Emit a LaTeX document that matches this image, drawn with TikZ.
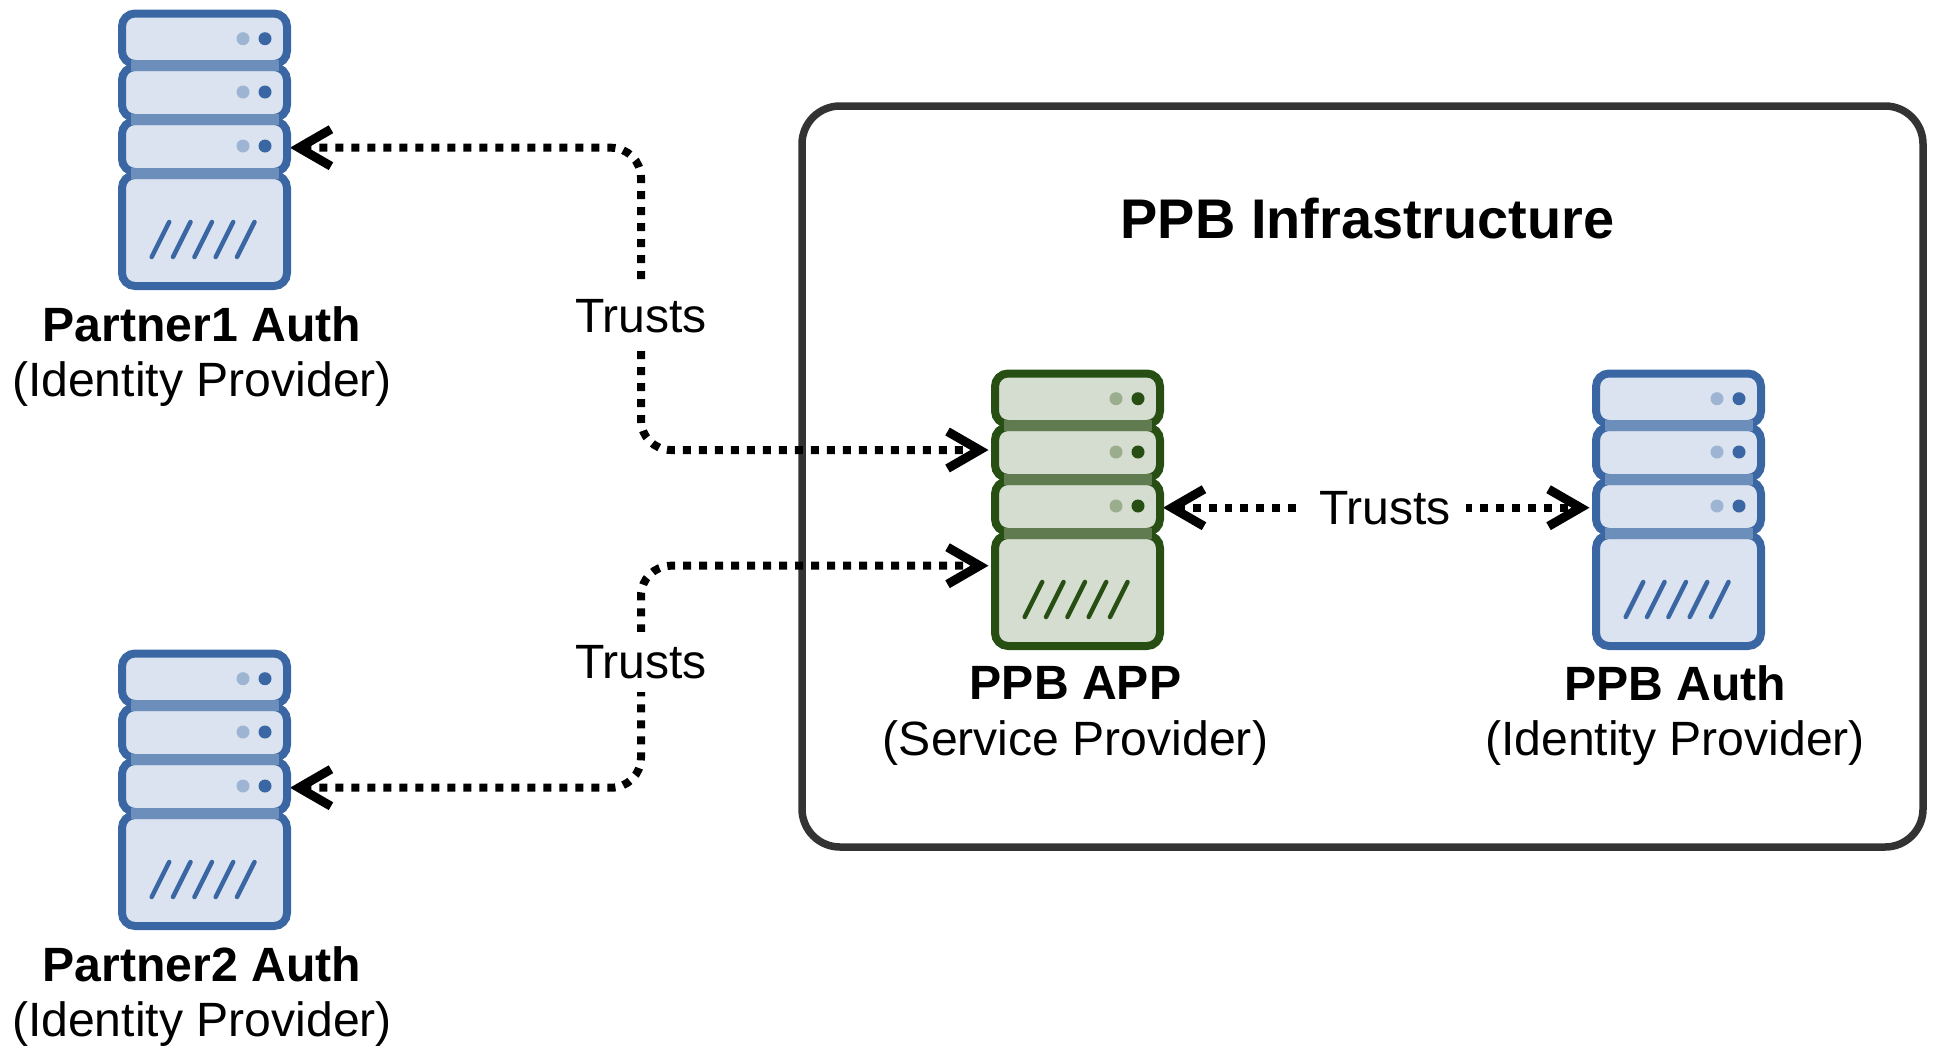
\documentclass[tikz,border=0pt]{standalone}
\usepackage{fontspec}
\setmainfont{Liberation Sans}
\usepackage{xcolor}
\usetikzlibrary{arrows.meta,positioning,backgrounds}
\definecolor{blueline}{HTML}{3A67A3}
\definecolor{bluefill}{HTML}{DAE3EF}
\definecolor{blueband}{HTML}{6C8EBA}
\definecolor{blueled}{HTML}{9DB4D3}
\definecolor{greenline}{HTML}{274E13}
\definecolor{greenfill}{HTML}{D5DCD0}
\definecolor{greenband}{HTML}{5F7B4F}
\definecolor{greenled}{HTML}{9AAD8D}
\definecolor{boxline}{HTML}{333333}

\begin{document}
\begin{tikzpicture}[
    x=0.02cm, y=-0.02cm,
    unit/.style={draw, line width=0.16cm, rounded corners=0.26cm},
    caption/.style={align=center, font=\fontsize{27.4}{31.7}\selectfont, inner sep=0pt},
    title/.style={font=\fontsize{31.8}{38}\selectfont\bfseries, inner sep=0pt},
    trustlabel/.style={fill=white, font=\fontsize{27.4}{32}\selectfont, inner xsep=0.3cm, inner ysep=0.27cm},
    infra/.style={draw=boxline, line width=0.15cm, rounded corners=0.76cm},
    trust/.style={line width=0.16cm, dash pattern=on 0.16cm off 0.16cm, rounded corners=0.6cm,
        {Straight Barb[length=0.64cm,width=0.74cm,line width=0.18cm]}-{Straight Barb[length=0.64cm,width=0.74cm,line width=0.18cm]}},
    pics/server/.style={code={
        % Body outline of the rack
        \node[minimum width=3.46cm, minimum height=5.6cm, inner sep=0pt] (-body) at (86.5,140) {};
        \foreach \ytop/\ybot in {3.5/54, 57/108, 111/162, 165/276}
            \draw[unit, draw=#1line, fill=#1fill] (4,\ytop) rectangle (169,\ybot);
        % Bands and lights
        \foreach \yband/\yled in {50/28.7, 104/82, 158/136} {
            \fill[#1band] (13,\yband) rectangle (161,\yband+11);
            \fill[#1led] (125,\yled) circle (0.13cm);
            \fill[#1line] (147,\yled) circle (0.13cm);
        }
        % Slots
        \foreach \xslot in {33.7, 55, 76.4, 97.7, 119}
            \draw[#1line, line width=0.09cm, line cap=round] (\xslot,247) -- (\xslot+17.5,212);
        % Connection points
        \coordinate (-right) at (172,137.7);
        \coordinate (-left) at (-2.5,137.7);
        \coordinate (-upper) at (-2.5,80);
        \coordinate (-lower) at (-2.5,195.7);
    }}
]
\useasboundingbox (0,0) rectangle (1942,1052);

% Servers
\pic (partnerA) at (118,10) {server=blue};
\pic (partnerB) at (118,650) {server=blue};
\pic (app) at (991,370) {server=green};
\pic (auth) at (1592,370) {server=blue};

% Captions
\node[caption, below=0.31cm of partnerA-body, xshift=-0.05cm] (partnerAtext) {\textbf{Partner1 Auth}\\(Identity Provider)};
\node[caption, below=0.31cm of partnerB-body, xshift=-0.05cm] (partnerBtext) {\textbf{Partner2 Auth}\\(Identity Provider)};
\node[caption, below=0.32cm of app-body, xshift=-0.04cm] (apptext) {\textbf{PPB APP}\\(Service Provider)};
\node[caption, below=0.29cm of auth-body, xshift=-0.07cm] (authtext) {\textbf{PPB Auth}\\(Identity Provider)};

% Frame and title
\node[title] (infratitle) at (1367.5,219) {PPB Infrastructure};

% Labels on the connectors
\node[trustlabel] (trustA) at (641,316) {Trusts};
\node[trustlabel] (trustB) at (641,662) {Trusts};
\node[trustlabel] (trustC) at (1385,508) {Trusts};

% Connections
\begin{scope}[on background layer]
    \draw[infra] (802,106) rectangle (1923,847);
    \draw[trust] (partnerA-right) -| (trustA.center) |- (app-upper);
    \draw[trust] (partnerB-right) -| (trustB.center) |- (app-lower);
    \draw[trust] (app-right) -- (auth-left);
\end{scope}

\end{tikzpicture}
\end{document}
